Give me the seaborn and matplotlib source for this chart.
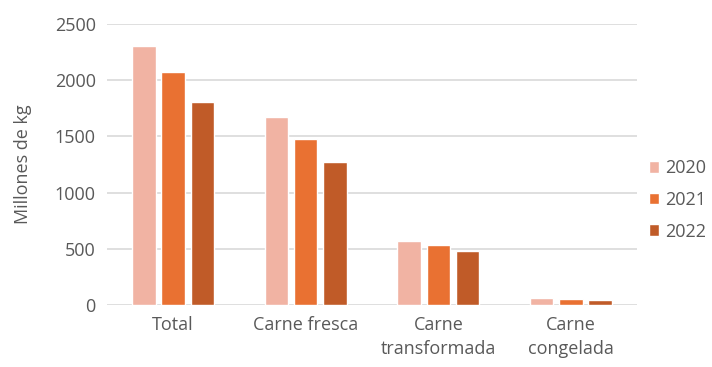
import matplotlib
matplotlib.use("Agg")
import matplotlib.pyplot as plt
import seaborn as sns
import pandas as pd

categories = ["Total", "Carne fresca", "Carne\ntransformada", "Carne\ncongelada"]
years = ["2020", "2021", "2022"]
values_2020 = [2300, 1670, 570, 60]
values_2021 = [2070, 1478, 534, 53]
values_2022 = [1805, 1272, 483, 44]
colors = ["#F1B3A3", "#E97132", "#C05B28"]

rows = []
for year, vals in zip(years, [values_2020, values_2021, values_2022]):
    for cat, v in zip(categories, vals):
        rows.append({"categoria": cat, "anio": year, "valor": v})
df = pd.DataFrame(rows)

sns.set_theme(style="white")
plt.rcParams["font.family"] = ["Open Sans", "DejaVu Sans"]
text_color = "#595959"
fs = 13

fig = plt.figure(figsize=(7.12, 3.67), dpi=100)
ax = fig.add_axes([0.150, 0.169, 0.745, 0.766])

sns.barplot(data=df, x="categoria", y="valor", hue="anio", palette=colors,
            width=0.66, gap=0.2, saturation=1, ax=ax, legend=True)

ax.set_ylim(0, 2500)
ax.set_yticks(range(0, 2501, 500))
ax.yaxis.grid(True, color="#D9D9D9", linewidth=1.2)
ax.set_axisbelow(True)
for s in ax.spines.values():
    s.set_visible(False)
ax.tick_params(axis="both", length=0, labelsize=fs, colors=text_color)
ax.tick_params(axis="x", pad=8)
ax.tick_params(axis="y", pad=8)
for lbl in ax.get_xticklabels():
    lbl.set_linespacing(1.45)
ax.set_xlabel("")
ax.set_ylabel("Millones de kg", fontsize=fs, color=text_color, labelpad=16)
ax.set_xlim(-0.5, 3.5)

leg = ax.legend(loc="center left", bbox_to_anchor=(0.911, 0.455),
                bbox_transform=fig.transFigure, frameon=False, borderpad=0,
                borderaxespad=0, fontsize=fs, labelcolor=text_color,
                handlelength=0.6, handleheight=0.6, handletextpad=0.3,
                labelspacing=0.75)

fig.savefig("out.png", dpi=100, facecolor="white")
